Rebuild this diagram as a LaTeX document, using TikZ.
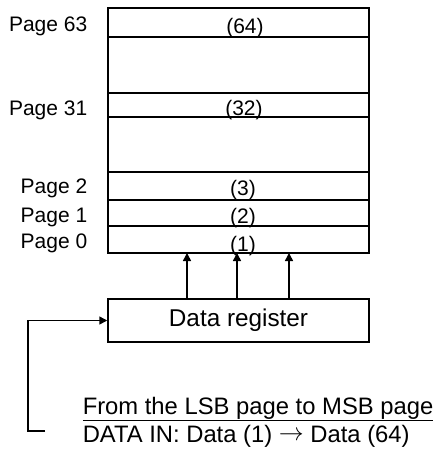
\documentclass[tikz,border=0pt]{standalone}
\usepackage{fontspec}
\setmainfont{Liberation Sans}
\usetikzlibrary{arrows.meta,calc}
\begin{document}
\begin{tikzpicture}[x=1pt,y=-1pt,
  line width=1.5pt,
  rowbox/.style={draw, minimum width=261pt, inner sep=0pt, outer sep=0pt, anchor=north west},
  pagelbl/.style={anchor=base east, inner sep=0pt, font=\fontsize{21}{25}\selectfont},
  numlbl/.style={anchor=base, inner sep=0pt, font=\fontsize{21}{25}\selectfont},
  arr/.style={-{Triangle[length=8pt,width=8pt]}},
  note/.style={anchor=base west, inner sep=0pt, font=\fontsize{23.8}{28}\selectfont}]
\useasboundingbox (0,0) rectangle (435,450);
% memory rows
\node[rowbox, minimum height=29pt] (r64) at (108,8) {};
\node[rowbox, minimum height=56pt] (g1) at (108,37) {};
\node[rowbox, minimum height=24pt] (r32) at (108,93) {};
\node[rowbox, minimum height=55pt] (g2) at (108,117) {};
\node[rowbox, minimum height=28pt] (r3) at (108,172) {};
\node[rowbox, minimum height=26pt] (r2) at (108,200) {};
\node[rowbox, minimum height=27pt] (r1) at (108,226) {};
% page labels
\node[pagelbl] (p63) at (88,31) {Page 63};
\node[pagelbl] (p31) at (88,115) {Page 31};
\node[pagelbl] (p2) at (88,193) {Page 2};
\node[pagelbl] (p1) at (88,222) {Page 1};
\node[pagelbl] (p0) at (88,248) {Page 0};
% numbers
\node[numlbl] (n64) at (245,33) {(64)};
\node[numlbl] (n32) at (244,115) {(32)};
\node[numlbl] (n3) at (243,195) {(3)};
\node[numlbl] (n2) at (243,223) {(2)};
\node[numlbl] (n1) at (243,251) {(1)};
% data register
\node[draw, minimum width=261pt, minimum height=43pt, inner sep=0pt, font=\fontsize{24.3}{29}\selectfont] (reg) at (238.5,320.5) {Data register};
% arrows up
\coordinate (c1) at (187,0);
\coordinate (c2) at (237,0);
\coordinate (c3) at (289,0);
\draw[arr] (reg.north -| c1) -- (r1.south -| c1);
\draw[arr] (reg.north -| c2) -- (r1.south -| c2);
\draw[arr] (reg.north -| c3) -- (r1.south -| c3);
% notes
\node[note] (from) at (82,414) {\underline{From the LSB page to MSB page}};
\node[note] (din) at (82,442) {DATA IN: Data (1) \raisebox{2pt}{$\rightarrow$} Data (64)};
% feedback line
\coordinate (fend) at (45,431);
\coordinate (fcorner) at (28,431);
\draw[arr] (fend) -- (fcorner) |- (reg.west);
\end{tikzpicture}
\end{document}
